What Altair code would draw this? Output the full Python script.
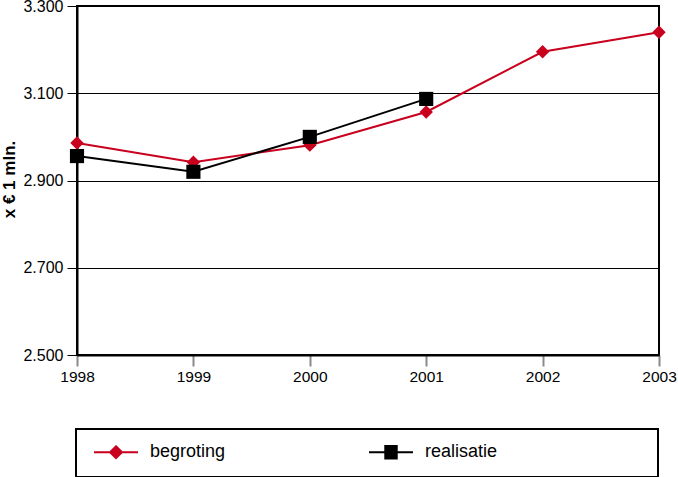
import altair as alt
import pandas as pd

# ---- data ----
years = [1998, 1999, 2000, 2001, 2002, 2003]
begroting = [2986, 2942, 2981, 3057, 3195, 3240]
realisatie_years = [1998, 1999, 2000, 2001]
realisatie = [2956, 2920, 3000, 3087]
series = ["begroting", "realisatie"]
series_colors = ["#c8001e", "#000000"]
y_ticks = [2500, 2700, 2900, 3100, 3300]

df = pd.DataFrame({
    "jaar": years + realisatie_years,
    "waarde": begroting + realisatie,
    "reeks": [series[0]] * len(years) + [series[1]] * len(realisatie_years),
})

FONT = "Liberation Sans"
RED, BLACK = series_colors

x_enc = alt.X(
    "jaar:Q",
    scale=alt.Scale(domain=[years[0], years[-1]], nice=False, zero=False),
    axis=alt.Axis(
        values=years, format="d", title=None, grid=False,
        domainColor="black", domainWidth=2,
        tickColor="#8a8a8a", tickWidth=2, tickSize=11,
        labelPadding=3, labelFont=FONT, labelFontSize=15.5, labelColor="black",
        labelFlush=False, labelOverlap=False,
    ),
)
y_enc = alt.Y(
    "waarde:Q",
    scale=alt.Scale(domain=[y_ticks[0], y_ticks[-1]], nice=False, zero=False),
    axis=alt.Axis(
        values=y_ticks,
        labelExpr="replace(format(datum.value, ','), ',', '.')",
        title="x € 1 mln.", titleFont=FONT, titleFontSize=17, titleFontWeight="bold",
        titleColor="black", titleAngle=270, titleX=-68, titleY=173,
        titleAlign="center", titleBaseline="middle",
        domainColor="black", domainWidth=2,
        tickColor="black", tickWidth=1, tickSize=10,
        gridColor="black", gridWidth=1, gridOpacity=1,
        labelPadding=4, labelFont=FONT, labelFontSize=16, labelColor="black",
    ),
)

def series_layers(name, color, shape, size):
    base = alt.Chart(df).transform_filter(alt.datum.reeks == name)
    line = base.mark_line(color=color, strokeWidth=2).encode(x=x_enc, y=y_enc)
    pts = base.mark_point(shape=shape, filled=True, size=size, color=color, opacity=1).encode(x=x_enc, y=y_enc)
    return [line, pts]

# legend symbols: a line with the marker on it (moves set the symbol box height)
legend_paths = [
    "M0,-0.93M0,0.93M-1,0H1M0,-0.27L0.27,0L0,0.27L-0.27,0Z",
    "M0,-0.93M0,0.93M-1,0H1M-0.26,-0.28H0.26V0.28H-0.26Z",
]
pad = "\u00a0" * 32 + "\u200b"
leg = alt.Legend(
    title=None, orient="none", legendX=-1, legendY=423,
    direction="horizontal", columns=2, columnPadding=125,
    symbolSize=1936, symbolStrokeWidth=2, symbolOffset=17, symbolOpacity=1,
    labelOffset=11, labelFont=FONT, labelFontSize=18, labelColor="black",
    labelExpr=f"datum.label == 'realisatie' ? datum.label + '{pad}' : datum.label",
    labelLimit=0,
    padding=0, strokeColor="black", fillColor="white",
)
legend_layer = alt.Chart(df).transform_filter("false").mark_point(filled=True).encode(
    x=x_enc, y=y_enc,
    fill=alt.Fill("reeks:N", scale=alt.Scale(domain=series, range=series_colors), legend=leg),
    stroke=alt.Stroke("reeks:N", scale=alt.Scale(domain=series, range=series_colors), legend=leg),
    shape=alt.Shape("reeks:N", scale=alt.Scale(domain=series, range=legend_paths), legend=leg),
)

layers = (
    series_layers(series[0], RED, "diamond", 180)
    + series_layers(series[1], BLACK, "square", 200)
    + [legend_layer]
)

chart = alt.layer(*layers).properties(
    width=582, height=349,
    padding={"left": 77, "top": 6, "right": 19, "bottom": 122},
    autosize=alt.AutoSizeParams(type="none"),
).configure_view(
    stroke="black", strokeWidth=2,
).configure_legend(
    strokeWidth=2,
)

chart.save("out.html", embed_options={"renderer": "svg", "actions": False})
